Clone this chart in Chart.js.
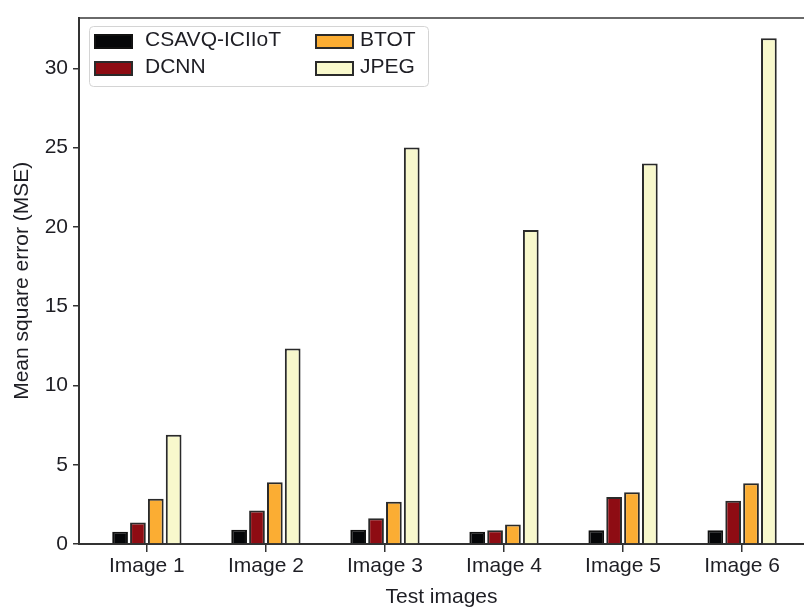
<!DOCTYPE html>
<html>
<head>
<meta charset="utf-8">
<script src="https://cdn.jsdelivr.net/npm/chart.js@4.4.1/dist/chart.umd.min.js"></script>
<style>
  html, body { margin: 0; padding: 0; background: #fff; overflow: hidden; }
  canvas { display: block; }
</style>
</head>
<body>
<canvas id="chart" width="804" height="608"></canvas>
<script>
// Test images along the x axis and their numeric slots
const categories = ['Image 1', 'Image 2', 'Image 3', 'Image 4', 'Image 5', 'Image 6'];
const categoryPositions = [1, 2, 3, 4, 5, 6];

// Mean square error per method
const seriesNames = ['CSAVQ-ICIIoT', 'DCNN', 'BTOT', 'JPEG'];
const csavqValues = [0.77, 0.90, 0.90, 0.77, 0.86, 0.86];
const dcnnValues  = [1.36, 2.12, 1.62, 0.86, 2.96, 2.73];
const btotValues  = [2.85, 3.90, 2.66, 1.23, 3.27, 3.83];
const jpegValues  = [6.89, 12.33, 25.0, 19.8, 24.0, 31.9];

// Y axis tick values
const yTickValues = [0, 5, 10, 15, 20, 25, 30];

const seriesColors = ['#050608', '#8e0c13', '#fbad33', '#f8f8cc'];
const seriesBorders = ['#111111', '#2a2a2a', '#2a2a2a', '#2a2a2a'];

const FONT = '"Liberation Sans", Arial, Helvetica, sans-serif';
const TEXT = '#1e1e24';
const AXIS = '#333333';

const allSeries = [csavqValues, dcnnValues, btotValues, jpegValues];
const datasets = allSeries.map((vals, s) => ({
  label: seriesNames[s],
  data: categoryPositions.map((x, i) => ({ x: x, y: vals[i] })),
  backgroundColor: seriesColors[s],
  borderColor: seriesBorders[s],
  borderWidth: 2,
  borderSkipped: 'bottom',
  categoryPercentage: 0.6,
  barPercentage: 0.88
}));

// Two-column legend inside the plot, in a rounded frame
const boxLegend = {
  id: 'boxLegend',
  afterDraw(chart) {
    const ctx = chart.ctx;
    const ds = chart.data.datasets;
    ctx.save();
    // frame
    const fx = 89.5, fy = 26.5, fw = 339, fh = 60, r = 4;
    ctx.beginPath();
    ctx.moveTo(fx + r, fy);
    ctx.arcTo(fx + fw, fy, fx + fw, fy + fh, r);
    ctx.arcTo(fx + fw, fy + fh, fx, fy + fh, r);
    ctx.arcTo(fx, fy + fh, fx, fy, r);
    ctx.arcTo(fx, fy, fx + fw, fy, r);
    ctx.closePath();
    ctx.fillStyle = 'rgba(255,255,255,0.9)';
    ctx.fill();
    ctx.strokeStyle = '#d4d4d4';
    ctx.lineWidth = 1;
    ctx.stroke();

    const cols = [{ sx: 95, tx: 145 }, { sx: 316, tx: 360 }];
    const rows = [41.5, 68.5];
    ctx.font = '21px ' + FONT;
    ctx.textBaseline = 'middle';
    ctx.textAlign = 'left';
    ds.forEach((d, i) => {
      const c = cols[Math.floor(i / 2)];
      const cy = rows[i % 2];
      ctx.fillStyle = d.backgroundColor;
      ctx.fillRect(c.sx, cy - 6.5, 37, 13);
      ctx.strokeStyle = d.borderColor;
      ctx.lineWidth = 2;
      ctx.strokeRect(c.sx, cy - 6.5, 37, 13);
      ctx.fillStyle = TEXT;
      ctx.fillText(d.label, c.tx, cy - 1.5);
    });
    ctx.restore();
  }
};

new Chart(document.getElementById('chart'), {
  type: 'bar',
  data: { datasets: datasets },
  plugins: [boxLegend],
  options: {
    responsive: false,
    animation: false,
    devicePixelRatio: 1,
    layout: { padding: 0 },
    plugins: {
      legend: { display: false },
      tooltip: { enabled: false }
    },
    scales: {
      x: {
        type: 'linear',
        position: 'bottom',
        min: 0.43,
        max: 6.52,
        offset: false,
        grid: {
          display: true,
          offset: false,
          drawOnChartArea: false,
          drawTicks: true,
          tickLength: 8,
          color: AXIS,
          lineWidth: 1.5
        },
        border: { display: true, color: AXIS, width: 2 },
        ticks: {
          autoSkip: false,
          maxRotation: 0,
          padding: 2,
          color: TEXT,
          font: { family: FONT, size: 21 },
          callback: (v) => {
            const i = categoryPositions.indexOf(v);
            return i >= 0 ? categories[i] : '';
          }
        },
        afterBuildTicks: (s) => { s.ticks = categoryPositions.map(v => ({ value: v })); },
        afterFit: (s) => { s.height = 64; },
        title: {
          display: true,
          text: 'Test images',
          color: TEXT,
          font: { family: FONT, size: 21, lineHeight: 1 },
          padding: 0
        }
      },
      xTop: {
        type: 'linear',
        position: 'top',
        min: 0.43,
        max: 6.52,
        grid: { display: false },
        border: { display: true, color: '#6a6a6a', width: 2 },
        ticks: { display: false },
        afterFit: (s) => { s.height = 16; }
      },
      y: {
        min: 0,
        max: 33.2,
        grid: {
          display: true,
          drawOnChartArea: false,
          drawTicks: true,
          tickLength: 6,
          color: AXIS,
          lineWidth: 1.5
        },
        border: { display: true, color: AXIS, width: 2 },
        ticks: {
          padding: 5,
          color: TEXT,
          font: { family: FONT, size: 21 }
        },
        afterBuildTicks: (s) => { s.ticks = yTickValues.map(v => ({ value: v })); },
        afterFit: (s) => { s.width = 79; },
        title: {
          display: true,
          text: 'Mean square error (MSE)',
          color: TEXT,
          font: { family: FONT, size: 21 },
          padding: { top: 10, bottom: 0 }
        }
      }
    }
  }
});
</script>
</body>
</html>
